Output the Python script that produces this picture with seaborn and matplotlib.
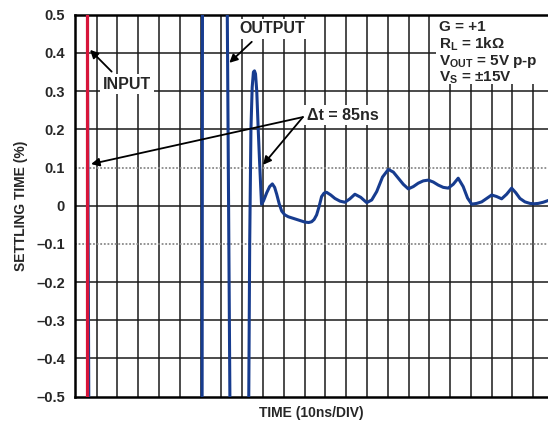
import numpy as np
import pandas as pd
import matplotlib
matplotlib.use('Agg')
import matplotlib.pyplot as plt
from matplotlib.patches import Rectangle
import seaborn as sns

# Data (x in divisions of 10ns, y in %)
input_x = [0.51, 0.51]
input_y = [-0.6, 0.6]

lead_x = [0.63, 0.55]
lead_y = [-0.55, 0.55]

output_x = [6.07, 6.09, 7.27, 7.42, 8.30,
            8.31, 8.36, 8.42, 8.48, 8.54, 8.59, 8.64, 8.70, 8.77, 8.84, 8.89, 8.93,
            9.02, 9.18, 9.32, 9.45, 9.56, 9.66, 9.78, 9.90, 10.05, 10.22, 10.62, 11.02,
            11.20, 11.34, 11.46, 11.58, 11.70, 11.82, 11.94, 12.06, 12.26, 12.46, 12.70,
            12.94, 13.18, 13.42, 13.70, 13.99, 14.23, 14.47, 14.75, 15.03, 15.27, 15.51,
            15.75, 15.99, 16.23, 16.47, 16.71, 16.95, 17.19, 17.43, 17.67, 17.91, 18.15,
            18.39, 18.63, 18.84, 19.04, 19.28, 19.52, 19.76, 20.00, 20.24, 20.48, 20.72,
            20.96, 21.16, 21.36, 21.60, 21.84, 22.04, 22.24, 22.48, 22.69, 22.80]
output_y = [-0.6, 0.6, 0.6, -0.6, -0.6,
            -0.55, -0.10, 0.20, 0.31, 0.35, 0.353, 0.345, 0.30, 0.20, 0.11, 0.05, 0.004,
            0.012, 0.034, 0.050, 0.057, 0.048, 0.030, 0.005, -0.014, -0.024, -0.029, -0.036, -0.043,
            -0.044, -0.042, -0.036, -0.024, -0.002, 0.024, 0.033, 0.035, 0.028, 0.019, 0.012,
            0.009, 0.018, 0.030, 0.022, 0.008, 0.015, 0.037, 0.075, 0.095, 0.088, 0.072,
            0.056, 0.044, 0.050, 0.059, 0.065, 0.067, 0.062, 0.054, 0.048, 0.046, 0.056,
            0.072, 0.050, 0.020, 0.004, 0.006, 0.010, 0.019, 0.028, 0.024, 0.018, 0.030,
            0.046, 0.034, 0.019, 0.010, 0.006, 0.005, 0.006, 0.009, 0.013, 0.015]

y_ticks = [0.5, 0.4, 0.3, 0.2, 0.1, 0, -0.1, -0.2, -0.3, -0.4, -0.5]
y_labels = ['0.5', '0.4', '0.3', '0.2', '0.1', '0', '\u20130.1', '\u20130.2',
            '\u20130.3', '\u20130.4', '\u20130.5']
x_grid = list(range(1, 23))

conditions = ['G = +1',
              'R$_{\\mathregular{L}}$ = 1k\u03a9',
              'V$_{\\mathregular{OUT}}$ = 5V p-p',
              'V$_{\\mathregular{S}}$ = \u00b115V']

sns.set_style('white')
plt.rcParams['font.family'] = ['Liberation Sans', 'DejaVu Sans']
plt.rcParams['font.weight'] = 'bold'
plt.rcParams['mathtext.fontset'] = 'custom'
plt.rcParams['mathtext.rm'] = 'Liberation Sans:bold'
plt.rcParams['mathtext.it'] = 'Liberation Sans:bold'
plt.rcParams['mathtext.bf'] = 'Liberation Sans:bold'

blue = '#173c8f'
red = '#d7153a'

fig = plt.figure(figsize=(5.48, 4.25), dpi=100)
ax = fig.add_axes([0.1363, 0.0666, 0.8637, 0.8988])
ax.set_xlim(-0.058, 22.71)
ax.set_ylim(-0.5, 0.5)

# grid
for gx in x_grid:
    ax.axvline(gx, color='#1a1a1a', lw=1.1, zorder=1)
for gy in y_ticks:
    if abs(gy) == 0.1:
        ax.axhline(gy, color='#8a8a8a', lw=1.3, ls=(0, (1, 1)), zorder=1)
    elif abs(gy) != 0.5:
        ax.axhline(gy, color='#1a1a1a', lw=1.1, zorder=1)

# white box behind the test conditions
ax.add_patch(Rectangle((17.3, 0.318), 6, 0.2, facecolor='white', edgecolor='none', zorder=2))

# traces
sns.lineplot(x=lead_x, y=lead_y, sort=False, estimator=None, color=blue, lw=2.0, ax=ax, zorder=3)
sns.lineplot(x=input_x, y=input_y, sort=False, estimator=None, color=red, lw=2.3, ax=ax, zorder=4)
df = pd.DataFrame({'t': output_x, 'v': output_y})
sns.lineplot(data=df, x='t', y='v', sort=False, estimator=None, color=blue, lw=2.2, ax=ax, zorder=4)
for line in ax.lines[-1:]:
    line.set_solid_joinstyle('round')
    line.set_solid_capstyle('round')

# axes styling
ax.set_yticks(y_ticks)
ax.set_yticklabels(y_labels)
ax.set_xticks([])
ax.tick_params(axis='y', length=0, pad=7, labelsize=10.5)
for s in ['left', 'top', 'bottom']:
    ax.spines[s].set_linewidth(1.8)
    ax.spines[s].set_color('black')
ax.spines['right'].set_visible(False)
ax.set_xlabel('TIME (10ns/DIV)', fontsize=10, fontweight='bold', labelpad=7)
ax.set_ylabel('SETTLING TIME (%)', fontsize=10, fontweight='bold', labelpad=6)

# annotations
arrow = dict(arrowstyle='-|>', color='black', lw=1.3, mutation_scale=12, shrinkA=0, shrinkB=0)
box = dict(facecolor='white', edgecolor='none', pad=2)
ax.annotate('', xy=(0.68, 0.408), xytext=(1.72, 0.351), arrowprops=arrow, zorder=6)
ax.text(2.46, 0.318, 'INPUT', fontsize=11.5, ha='center', va='center', bbox=box, zorder=5)
ax.annotate('', xy=(7.38, 0.374), xytext=(8.46, 0.429), arrowprops=arrow, zorder=6)
ax.text(9.43, 0.463, 'OUTPUT', fontsize=11.5, ha='center', va='center', bbox=box, zorder=5)
ax.annotate('', xy=(0.73, 0.109), xytext=(10.92, 0.232), arrowprops=arrow, zorder=6)
ax.annotate('', xy=(9.0, 0.107), xytext=(10.92, 0.232), arrowprops=arrow, zorder=6)
ax.text(11.1, 0.237, '\u0394t = 85ns', fontsize=11.5, ha='left', va='center', bbox=box, zorder=5)

cond_y = [0.457, 0.411, 0.368, 0.326]
for label, cy in zip(conditions, cond_y):
    ax.text(17.48, cy, label, fontsize=11, ha='left', va='baseline', zorder=5)

fig.savefig('out.png', dpi=100)
